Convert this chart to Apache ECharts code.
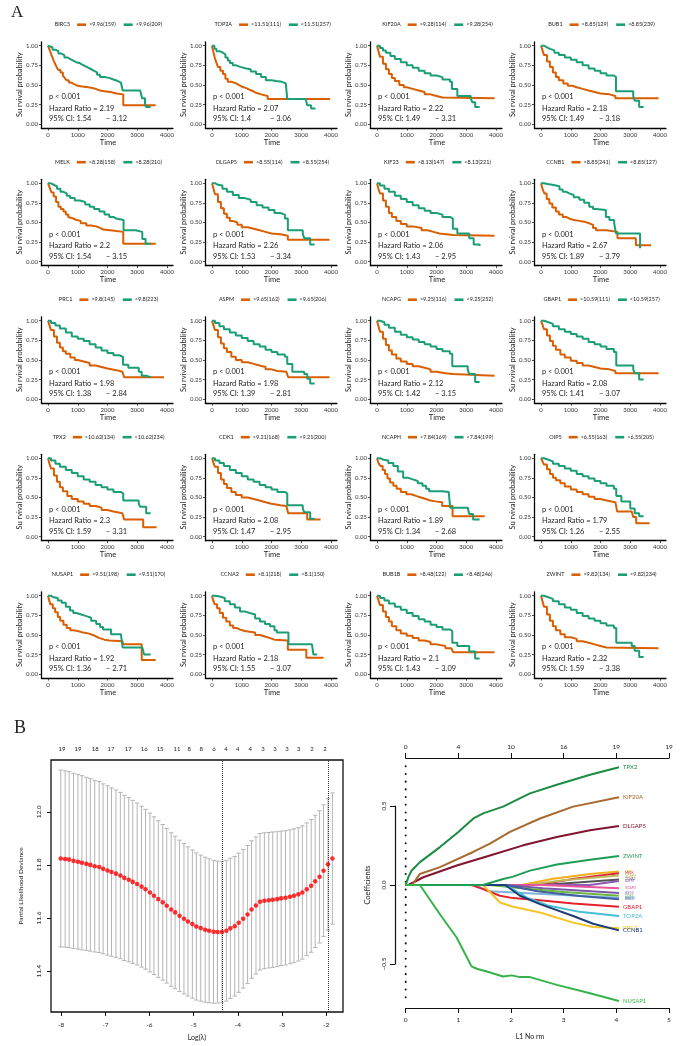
<!DOCTYPE html>
<html><head><meta charset="utf-8">
<script src="https://cdn.jsdelivr.net/npm/echarts@6/dist/echarts.min.js"></script>
<style>html,body{margin:0;padding:0;background:#fff}#c{width:685px;height:1046px}</style>
</head><body><div id="c"></div>
<script>
// ---------------- DATA: Panel A (Kaplan-Meier) ----------------
const genes = ['BIRC5','TOP2A','KIF20A','BUB1','MELK','DLGAP5','KIF23','CCNB1','PRC1','ASPM','NCAPG','GBAP1','TPX2','CDK1','NCAPH','OIP5','NUSAP1','CCNA2','BUB1B','ZWINT'];
const cutoffs = ['9.96','11.51','9.28','8.85','8.28','8.55','8.13','8.85','9.8','9.65','9.25','10.59','10.62','9.21','7.84','6.55','9.51','8.1','8.48','9.82'];
const nHigh = [159,111,114,129,158,114,147,241,145,162,116,111,134,168,169,163,198,218,122,134];
const nLow  = [209,257,254,239,210,254,221,127,223,206,252,257,234,200,199,205,170,150,246,234];
const hazardRatio = ['2.19','2.07','2.22','2.18','2.2','2.26','2.06','2.67','1.98','1.98','2.12','2.08','2.3','2.08','1.89','1.79','1.92','2.18','2.1','2.32'];
const ciLower = ['1.54','1.4','1.49','1.49','1.54','1.53','1.43','1.89','1.38','1.39','1.42','1.41','1.59','1.47','1.34','1.26','1.36','1.55','1.43','1.59'];
const ciUpper = ['3.12','3.06','3.31','3.18','3.15','3.34','2.95','3.79','2.84','2.81','3.15','3.07','3.31','2.95','2.68','2.55','2.71','3.07','3.09','3.38'];
const pValueText = 'p < 0.001';
const timeTicks = [0,1000,2000,3000,4000];
const survTicks = [0,0.25,0.5,0.75,1];

// survival curves [time, probability]; high-expression group
const survHigh = [
 [[0,1],[40,0.96],[80,0.92],[120,0.88],[160,0.84],[200,0.80],[250,0.76],[300,0.72],[350,0.69],[420,0.66],[500,0.62],[560,0.59],[620,0.56],[700,0.53],[780,0.51],[880,0.49],[1000,0.48],[1150,0.47],[1350,0.46],[1500,0.45],[1600,0.43],[1750,0.42],[1900,0.41],[2100,0.39],[2300,0.38],[2530,0.24],[3620,0.24]],
 [[0,1],[40,0.93],[90,0.85],[150,0.78],[200,0.73],[280,0.68],[370,0.64],[450,0.58],[530,0.54],[650,0.52],[810,0.50],[900,0.48],[1000,0.46],[1150,0.44],[1260,0.42],[1380,0.40],[1480,0.38],[1650,0.36],[1870,0.32],[3970,0.32]],
 [[0,1],[50,0.93],[100,0.86],[200,0.77],[300,0.70],[400,0.64],[500,0.59],[600,0.55],[750,0.50],[900,0.47],[1000,0.45],[1200,0.43],[1400,0.41],[1600,0.38],[1800,0.36],[2000,0.34],[2200,0.33],[3950,0.33]],
 [[0,1],[50,0.94],[100,0.88],[200,0.80],[300,0.73],[400,0.66],[500,0.60],[600,0.56],[750,0.52],[900,0.49],[1050,0.47],[1200,0.45],[1400,0.43],[1600,0.41],[1800,0.39],[2000,0.38],[2300,0.36],[2500,0.33],[3950,0.33]],
 [[0,1],[60,0.94],[120,0.88],[190,0.83],[270,0.76],[350,0.70],[430,0.67],[520,0.64],[600,0.60],[680,0.57],[740,0.55],[850,0.53],[960,0.52],[1100,0.49],[1290,0.46],[1450,0.45],[1620,0.43],[1750,0.41],[1850,0.40],[2100,0.39],[2300,0.38],[2530,0.23],[3620,0.23]],
 [[0,1],[50,0.93],[100,0.86],[200,0.76],[300,0.68],[400,0.61],[500,0.56],[600,0.52],[700,0.50],[850,0.47],[1000,0.44],[1200,0.42],[1400,0.40],[1600,0.38],[1800,0.36],[2000,0.35],[2300,0.33],[2550,0.28],[3950,0.28]],
 [[0,1],[50,0.93],[100,0.87],[200,0.78],[300,0.70],[400,0.62],[500,0.57],[650,0.52],[800,0.48],[1000,0.45],[1200,0.43],[1500,0.40],[1700,0.38],[1900,0.36],[2100,0.34],[2550,0.33],[3950,0.33]],
 [[0,1],[50,0.93],[110,0.87],[190,0.80],[280,0.74],[380,0.69],[500,0.64],[600,0.60],[730,0.57],[850,0.55],[950,0.53],[1100,0.52],[1290,0.51],[1450,0.49],[1620,0.47],[1750,0.43],[1850,0.40],[2200,0.38],[2570,0.30],[3190,0.21],[3700,0.21]],
 [[0,1],[50,0.94],[100,0.88],[200,0.80],[300,0.72],[400,0.66],[500,0.61],[600,0.58],[750,0.53],[900,0.50],[1000,0.48],[1200,0.46],[1400,0.43],[1600,0.41],[1800,0.39],[2000,0.37],[2300,0.35],[2500,0.33],[2560,0.28],[3900,0.28]],
 [[0,1],[50,0.94],[100,0.88],[200,0.79],[300,0.71],[400,0.65],[500,0.60],[650,0.54],[800,0.50],[1000,0.47],[1200,0.45],[1400,0.43],[1600,0.41],[1800,0.38],[2000,0.36],[2200,0.35],[2500,0.33],[2560,0.28],[3950,0.28]],
 [[0,1],[50,0.93],[100,0.86],[200,0.77],[300,0.69],[400,0.62],[500,0.57],[650,0.52],[800,0.48],[1000,0.45],[1200,0.42],[1400,0.40],[1600,0.38],[1800,0.35],[2000,0.33],[2300,0.32],[2550,0.30],[3950,0.30]],
 [[0,1],[50,0.95],[100,0.89],[200,0.81],[300,0.74],[400,0.68],[500,0.63],[650,0.57],[800,0.53],[1000,0.49],[1200,0.46],[1400,0.43],[1600,0.41],[1800,0.39],[2000,0.38],[2300,0.36],[2500,0.33],[3950,0.33]],
 [[0,1],[50,0.93],[100,0.87],[200,0.78],[300,0.70],[400,0.63],[500,0.58],[650,0.52],[800,0.48],[1000,0.45],[1200,0.42],[1400,0.39],[1600,0.37],[1800,0.34],[2000,0.32],[2200,0.30],[2500,0.28],[2560,0.22],[3200,0.12],[3650,0.12]],
 [[0,1],[50,0.94],[100,0.89],[200,0.81],[300,0.73],[400,0.67],[500,0.62],[650,0.57],[800,0.53],[1000,0.50],[1200,0.48],[1400,0.46],[1600,0.44],[1800,0.42],[2000,0.40],[2300,0.39],[2500,0.38],[2560,0.30],[3200,0.22],[3650,0.22]],
 [[0,1],[50,0.94],[110,0.90],[190,0.85],[270,0.80],[350,0.74],[440,0.69],[550,0.65],[660,0.61],[800,0.57],[990,0.54],[1150,0.52],[1310,0.50],[1480,0.48],[1640,0.46],[1800,0.45],[1970,0.44],[2190,0.39],[2540,0.26],[3620,0.26]],
 [[0,1],[50,0.96],[100,0.92],[200,0.86],[300,0.80],[400,0.75],[500,0.72],[650,0.68],[800,0.64],[1000,0.60],[1200,0.57],[1400,0.54],[1600,0.51],[1800,0.48],[2000,0.46],[2200,0.44],[2500,0.42],[2560,0.32],[3050,0.30],[3100,0.25],[3200,0.17],[3650,0.17]],
 [[0,1],[40,0.94],[80,0.89],[160,0.84],[240,0.79],[330,0.73],[410,0.68],[520,0.63],[630,0.59],[750,0.56],[850,0.55],[1000,0.53],[1180,0.52],[1350,0.50],[1510,0.48],[1620,0.46],[1730,0.44],[1900,0.43],[2070,0.42],[2510,0.38],[3150,0.18],[3620,0.18]],
 [[0,1],[40,0.94],[90,0.89],[170,0.84],[260,0.78],[370,0.72],[480,0.67],[600,0.62],[710,0.59],[820,0.57],[930,0.55],[1100,0.54],[1270,0.53],[1450,0.50],[1610,0.48],[1780,0.46],[1950,0.44],[2100,0.43],[2550,0.31],[3170,0.21],[3750,0.21]],
 [[0,1],[50,0.94],[100,0.88],[200,0.80],[300,0.73],[400,0.67],[500,0.61],[650,0.56],[800,0.52],[1000,0.49],[1200,0.46],[1400,0.43],[1600,0.41],[1800,0.38],[2000,0.36],[2300,0.33],[2500,0.32],[2560,0.28],[3950,0.28]],
 [[0,1],[50,0.93],[100,0.86],[200,0.76],[300,0.68],[400,0.61],[500,0.56],[650,0.51],[800,0.47],[1000,0.45],[1200,0.42],[1400,0.40],[1600,0.38],[1800,0.36],[2000,0.34],[2200,0.33],[3950,0.33]]
];
// low-expression group
const survLow = [
 [[0,1],[60,0.98],[150,0.95],[250,0.93],[350,0.90],[450,0.88],[550,0.85],[650,0.83],[750,0.81],[850,0.79],[950,0.78],[1050,0.76],[1150,0.74],[1250,0.72],[1350,0.70],[1450,0.68],[1550,0.66],[1650,0.63],[1750,0.60],[1900,0.59],[2050,0.57],[2200,0.55],[2350,0.53],[2450,0.51],[2510,0.43],[3100,0.41],[3160,0.33],[3260,0.26],[3300,0.22],[3450,0.22]],
 [[0,1],[80,0.96],[150,0.93],[250,0.91],[370,0.89],[450,0.85],[530,0.81],[600,0.78],[700,0.75],[810,0.73],[950,0.71],[1150,0.70],[1300,0.67],[1480,0.64],[1650,0.60],[1810,0.56],[2000,0.55],[2150,0.54],[2350,0.52],[2480,0.51],[2530,0.32],[3150,0.32],[3200,0.24],[3330,0.20],[3480,0.20]],
 [[0,1],[100,0.97],[200,0.94],[300,0.91],[450,0.87],[600,0.83],[800,0.79],[1000,0.75],[1200,0.72],[1400,0.68],[1600,0.65],[1800,0.62],[2000,0.60],[2200,0.57],[2450,0.54],[2520,0.45],[2700,0.36],[3150,0.33],[3200,0.28],[3300,0.22],[3450,0.22]],
 [[0,1],[100,0.98],[200,0.96],[300,0.94],[450,0.91],[600,0.88],[800,0.85],[1000,0.82],[1200,0.79],[1400,0.75],[1600,0.71],[1800,0.68],[2000,0.65],[2200,0.62],[2450,0.60],[2520,0.42],[3100,0.36],[3150,0.30],[3300,0.22],[3450,0.22]],
 [[0,1],[80,0.98],[190,0.96],[300,0.93],[420,0.89],[520,0.87],[630,0.84],[740,0.81],[900,0.78],[1070,0.76],[1250,0.73],[1400,0.70],[1550,0.67],[1730,0.64],[1900,0.60],[2060,0.57],[2200,0.55],[2290,0.53],[2540,0.40],[2950,0.38],[3170,0.29],[3280,0.23],[3450,0.23]],
 [[0,1],[100,0.98],[200,0.97],[350,0.93],[500,0.89],[700,0.85],[900,0.81],[1100,0.79],[1300,0.76],[1500,0.72],[1700,0.69],[1900,0.66],[2100,0.62],[2300,0.60],[2450,0.55],[2550,0.40],[3050,0.36],[3100,0.30],[3300,0.22],[3450,0.22]],
 [[0,1],[100,0.97],[250,0.93],[400,0.89],[600,0.84],[800,0.80],[1000,0.76],[1200,0.72],[1400,0.68],[1600,0.65],[1800,0.62],[2000,0.60],[2200,0.57],[2450,0.55],[2550,0.42],[2700,0.36],[3100,0.30],[3250,0.22],[3450,0.20]],
 [[0,1],[100,0.99],[220,0.98],[380,0.97],[500,0.96],[620,0.92],[730,0.89],[850,0.87],[950,0.85],[1100,0.82],[1290,0.79],[1450,0.75],[1620,0.70],[1750,0.67],[1850,0.66],[2180,0.57],[2300,0.53],[2460,0.49],[2520,0.36],[3330,0.17]],
 [[0,1],[100,0.97],[250,0.94],[400,0.90],[600,0.85],[800,0.80],[1000,0.77],[1200,0.74],[1400,0.70],[1600,0.66],[1800,0.62],[2000,0.59],[2200,0.56],[2400,0.54],[2520,0.44],[2700,0.40],[3050,0.35],[3150,0.30],[3300,0.28],[3450,0.28]],
 [[0,1],[100,0.97],[250,0.93],[400,0.89],[600,0.85],[800,0.81],[1000,0.78],[1200,0.74],[1400,0.70],[1600,0.67],[1800,0.63],[2000,0.60],[2200,0.57],[2450,0.54],[2530,0.45],[2700,0.35],[3100,0.32],[3200,0.26],[3300,0.20],[3450,0.20]],
 [[0,1],[100,0.98],[250,0.95],[400,0.91],[600,0.86],[800,0.82],[1000,0.79],[1200,0.76],[1400,0.73],[1600,0.70],[1800,0.67],[2000,0.64],[2200,0.61],[2450,0.58],[2530,0.42],[3050,0.38],[3100,0.32],[3300,0.22],[3450,0.22]],
 [[0,1],[100,0.98],[250,0.96],[400,0.93],[600,0.89],[800,0.86],[1000,0.83],[1200,0.80],[1400,0.77],[1600,0.73],[1800,0.70],[2000,0.67],[2200,0.64],[2450,0.60],[2530,0.43],[3100,0.38],[3150,0.33],[3300,0.25],[3450,0.25]],
 [[0,1],[100,0.97],[250,0.93],[400,0.89],[600,0.85],[800,0.81],[1000,0.77],[1200,0.73],[1400,0.70],[1600,0.66],[1800,0.63],[2000,0.60],[2200,0.57],[2450,0.55],[2530,0.46],[3050,0.42],[3100,0.38],[3300,0.30],[3450,0.30]],
 [[0,1],[100,0.97],[250,0.94],[400,0.90],[600,0.85],[800,0.81],[1000,0.77],[1200,0.73],[1400,0.70],[1600,0.66],[1800,0.63],[2000,0.60],[2200,0.57],[2450,0.55],[2530,0.40],[3050,0.36],[3100,0.31],[3300,0.23],[3450,0.23]],
 [[0,1],[100,0.98],[220,0.97],[380,0.94],[550,0.90],[700,0.83],[880,0.75],[1050,0.73],[1200,0.71],[1370,0.68],[1530,0.65],[1650,0.61],[1750,0.58],[2200,0.57],[2410,0.56],[2460,0.37],[3050,0.37],[3100,0.29],[3230,0.22],[3450,0.22]],
 [[0,1],[100,0.98],[250,0.96],[400,0.93],[600,0.90],[800,0.87],[1000,0.84],[1200,0.80],[1400,0.77],[1600,0.74],[1800,0.71],[2000,0.68],[2200,0.65],[2450,0.61],[2530,0.52],[2700,0.45],[3000,0.36],[3150,0.30],[3300,0.26],[3450,0.26]],
 [[0,1],[100,0.98],[190,0.97],[330,0.94],[460,0.91],[600,0.86],[740,0.81],[850,0.78],[960,0.76],[1120,0.74],[1290,0.72],[1450,0.68],[1620,0.64],[1750,0.60],[1850,0.57],[2120,0.51],[2450,0.49],[2510,0.34],[3170,0.34],[3230,0.25],[3450,0.25]],
 [[0,1],[100,0.99],[260,0.97],[430,0.93],[600,0.89],[770,0.85],[940,0.80],[1100,0.78],[1270,0.76],[1450,0.71],[1610,0.67],[1780,0.64],[1950,0.61],[2100,0.56],[2180,0.53],[2570,0.38],[3360,0.36],[3410,0.25],[3530,0.25]],
 [[0,1],[100,0.97],[250,0.94],[400,0.90],[600,0.86],[800,0.82],[1000,0.78],[1200,0.74],[1400,0.70],[1600,0.67],[1800,0.63],[2000,0.60],[2200,0.57],[2450,0.55],[2530,0.40],[2700,0.36],[3100,0.29],[3300,0.20],[3450,0.20]],
 [[0,1],[100,0.98],[250,0.96],[400,0.93],[600,0.89],[800,0.85],[1000,0.82],[1200,0.78],[1400,0.74],[1600,0.71],[1800,0.68],[2000,0.65],[2200,0.62],[2450,0.59],[2530,0.40],[3050,0.36],[3150,0.30],[3300,0.22],[3450,0.22]]
];

// ---------------- DATA: Panel B left (cross-validation) ----------------
const logLambda = [-8.01,-7.91,-7.82,-7.72,-7.62,-7.53,-7.43,-7.34,-7.24,-7.14,-7.05,-6.95,-6.86,-6.76,-6.66,-6.57,-6.47,-6.38,-6.28,-6.18,-6.09,-5.99,-5.90,-5.80,-5.70,-5.61,-5.51,-5.42,-5.32,-5.22,-5.13,-5.03,-4.94,-4.84,-4.74,-4.65,-4.55,-4.46,-4.36,-4.26,-4.17,-4.07,-3.98,-3.88,-3.78,-3.69,-3.59,-3.50,-3.40,-3.30,-3.21,-3.11,-3.02,-2.92,-2.82,-2.73,-2.63,-2.54,-2.44,-2.34,-2.25,-2.15,-2.06,-1.96,-1.86];
const cvMean = [11.824,11.822,11.820,11.815,11.812,11.808,11.804,11.800,11.795,11.792,11.785,11.779,11.773,11.767,11.760,11.751,11.744,11.736,11.728,11.718,11.708,11.696,11.684,11.671,11.659,11.646,11.632,11.621,11.608,11.597,11.587,11.577,11.568,11.562,11.556,11.552,11.548,11.547,11.547,11.552,11.561,11.569,11.582,11.597,11.613,11.632,11.647,11.661,11.665,11.667,11.669,11.671,11.674,11.676,11.680,11.684,11.689,11.696,11.708,11.721,11.738,11.755,11.778,11.802,11.824];
const cvSE = [0.333,0.332,0.331,0.330,0.329,0.328,0.326,0.325,0.323,0.322,0.320,0.319,0.317,0.315,0.313,0.311,0.309,0.307,0.305,0.303,0.301,0.299,0.297,0.295,0.293,0.291,0.289,0.287,0.285,0.283,0.281,0.279,0.277,0.275,0.273,0.271,0.269,0.267,0.266,0.265,0.264,0.263,0.262,0.261,0.260,0.259,0.258,0.257,0.256,0.255,0.255,0.254,0.253,0.253,0.252,0.252,0.251,0.251,0.250,0.250,0.249,0.249,0.248,0.248,0.247];
const lambdaMin = -4.36, lambda1se = -1.96;
const topLambda = [-7.98,-7.62,-7.23,-6.87,-6.48,-6.12,-5.76,-5.38,-5.10,-4.83,-4.54,-4.27,-4.00,-3.72,-3.43,-3.16,-2.89,-2.62,-2.32,-2.03];
const topCounts = [19,19,18,17,17,16,15,11,8,8,6,4,4,4,3,3,3,3,2,2];
const cvXTicks = [-8,-7,-6,-5,-4,-3,-2];
const cvYTicks = [11.4,11.6,11.8,12.0];

// ---------------- DATA: Panel B right (coefficient paths) ----------------
const pathTPX2   = [[0,0],[0.05,0.05],[0.11,0.09],[0.27,0.145],[0.65,0.24],[1.0,0.336],[1.28,0.42],[1.47,0.453],[1.85,0.496],[2.04,0.528],[2.36,0.58],[2.87,0.634],[3.5,0.698],[4.05,0.745]];
const pathKIF20A = [[0,0],[0.12,0],[0.27,0.07],[0.65,0.113],[1.28,0.209],[1.6,0.262],[1.98,0.336],[2.55,0.421],[3.18,0.496],[4.05,0.555]];
const pathDLGAP5 = [[0,0],[0.05,0],[0.335,0.049],[0.97,0.123],[1.6,0.187],[2.23,0.251],[2.87,0.304],[3.5,0.347],[4.05,0.374]];
const pathZWINT  = [[0,0],[1.47,0],[1.85,0.038],[2.04,0.053],[2.36,0.091],[2.87,0.13],[3.5,0.16],[4.05,0.183]];
const pathOIP5   = [[0,0],[2.2,0],[2.8,0.04],[3.5,0.07],[4.05,0.085]];
const pathMELK   = [[0,0],[2.5,0],[3.2,0.04],[4.05,0.075]];
const pathNCAPH  = [[0,0],[2.3,0],[3.0,0.03],[4.05,0.06]];
const pathCCNA2  = [[0,0],[2.6,0],[4.05,0.035]];
const pathASPM   = [[0,0],[3.5,0],[4.05,0.025]];
const pathNCAPG  = [[0,0],[2.6,0],[4.05,-0.02]];
const pathKIF23  = [[0,0],[1.9,0],[2.6,-0.02],[4.05,-0.05]];
const pathCDK1   = [[0,0],[1.6,0],[2.2,-0.02],[3.0,-0.045],[4.05,-0.068]];
const pathBUB1B  = [[0,0],[1.3,0],[1.6,-0.04],[2.5,-0.055],[4.05,-0.08]];
const pathBIRC5  = [[0,0],[1.9,0],[2.5,-0.04],[3.3,-0.07],[4.05,-0.09]];
const pathGBAP1  = [[0,0],[1.25,0],[1.47,-0.026],[1.79,-0.068],[2.04,-0.083],[2.55,-0.096],[3.18,-0.117],[4.05,-0.138]];
const pathTOP2A  = [[0,0],[1.85,0],[2.0,-0.02],[2.3,-0.08],[2.7,-0.13],[3.3,-0.17],[4.05,-0.196]];
const pathPRC1   = [[0,0],[1.47,0],[1.79,-0.111],[2.04,-0.138],[2.55,-0.174],[3.18,-0.238],[3.56,-0.266],[4.05,-0.274]];
const pathCCNB1  = [[0,0],[1.89,0],[2.17,-0.068],[2.55,-0.121],[3.18,-0.196],[3.56,-0.245],[4.05,-0.287]];
const pathNUSAP1 = [[0,0],[0.27,0],[0.65,-0.185],[0.97,-0.334],[1.25,-0.515],[1.35,-0.53],[1.54,-0.547],[1.85,-0.579],[2.01,-0.572],[2.17,-0.583],[2.36,-0.583],[2.87,-0.632],[3.5,-0.685],[4.05,-0.734]];
const coefNames  = ['OIP5','MELK','NCAPH','CCNA2','ASPM','NCAPG','KIF23','CDK1','BUB1B','BIRC5','GBAP1','TOP2A','PRC1','CCNB1','ZWINT','DLGAP5','KIF20A','TPX2','NUSAP1'];
const coefPaths  = [pathOIP5,pathMELK,pathNCAPH,pathCCNA2,pathASPM,pathNCAPG,pathKIF23,pathCDK1,pathBUB1B,pathBIRC5,pathGBAP1,pathTOP2A,pathPRC1,pathCCNB1,pathZWINT,pathDLGAP5,pathKIF20A,pathTPX2,pathNUSAP1];
const coefColors = ['#f2b01e','#d7263d','#c2b85a','#555555','#8e5ab5','#e7559a','#7a58a8','#6db33f','#7fb2dc','#3f5f9e','#e3222b','#45c0d2','#f6c424','#1f3d78','#1f9d55','#82142f','#a8692e','#1c8c42','#35b34a'];
const coefBig = ['GBAP1','TOP2A','PRC1','CCNB1','ZWINT','DLGAP5','KIF20A','TPX2','NUSAP1'];
const l1Ticks = [0,1,2,3,4,5];
const dfTop = ['0','4','10','16','19','19'];
const coefTicks = [-0.5,0,0.5];
const zeroLineExtent = [0.752,-0.746];

// ---------------- LAYOUT ----------------
const FONT = 'Lato';
const ORANGE = '#D95F02', GREEN = '#1B9E77';
const colX0 = [48, 212, 377, 541];
const rowY1 = [45.7, 183.2, 320.7, 458.2, 595.7];
const XW = 119, YH = 78.5, XMIN = -220, XMAX = 4200, YMIN = -0.05, YMAX = 1.05;

const cv = document.createElement('canvas').getContext('2d');
function tw(t, size){ cv.font = size + 'px ' + FONT; return cv.measureText(t).width; }
function txt(t, x, y, size, opt){
  opt = opt || {};
  return {type:'text', x:x, y:y, rotation: opt.rot || 0, silent:true,
    style:{text:t, fontSize:size, fontFamily: opt.family || FONT, fill: opt.fill || '#222',
      textAlign: opt.align || 'left', textVerticalAlign: opt.va || 'middle', fontWeight: opt.weight || 'normal'}};
}
const plain = v => String(v);

const grids=[], xAxes=[], yAxes=[], series=[], graphics=[];
for (let i=0;i<20;i++){
  const c=i%4, r=Math.floor(i/4), x0=colX0[c], y1=rowY1[r];
  grids.push({left:x0 + XMIN/4000*XW, top:y1-(YMAX-1)*YH, width:(XMAX-XMIN)/4000*XW, height:(YMAX-YMIN)*YH});
  xAxes.push({gridIndex:i, type:'value', min:XMIN, max:XMAX,
    axisLine:{show:true, onZero:false, lineStyle:{color:'#000', width:1.3}},
    axisTick:{show:true, customValues:timeTicks, length:2.5, lineStyle:{color:'#222', width:0.8}},
    axisLabel:{customValues:timeTicks, fontSize:6, color:'#333', margin:3.5, fontFamily:FONT, formatter:plain},
    splitLine:{show:false}});
  yAxes.push({gridIndex:i, type:'value', min:YMIN, max:YMAX,
    axisLine:{show:true, onZero:false, lineStyle:{color:'#000', width:1.3}},
    axisTick:{show:true, customValues:survTicks, length:2.5, lineStyle:{color:'#222', width:0.8}},
    axisLabel:{customValues:survTicks, fontSize:6, color:'#333', margin:3.5, fontFamily:FONT, formatter:v=>v.toFixed(2)},
    splitLine:{show:false}});
  series.push({type:'line', xAxisIndex:i, yAxisIndex:i, data:survHigh[i], step:'end', symbol:'none', silent:true,
    lineStyle:{color:ORANGE, width:2}, itemStyle:{color:ORANGE}});
  series.push({type:'line', xAxisIndex:i, yAxisIndex:i, data:survLow[i], step:'end', symbol:'none', silent:true,
    lineStyle:{color:GREEN, width:2}, itemStyle:{color:GREEN}});
  // texts
  graphics.push(txt('Su rvival probability', x0-28, y1+39, 7.5, {rot:Math.PI/2, align:'center'}));
  graphics.push(txt('Time', x0+60, y1+96.5, 7.5, {align:'center'}));
  graphics.push(txt(pValueText, x0+1, y1+51, 7.5));
  graphics.push(txt('Hazard Ratio = ' + hazardRatio[i], x0+1, y1+62.5, 7.5));
  graphics.push(txt('95% CI: ' + ciLower[i], x0+1, y1+73, 7.5));
  graphics.push(txt('\u2212 ' + ciUpper[i], x0+58, y1+73, 7.5));
  // legend
  const LF = 5.5, lab1='>'+cutoffs[i]+'('+nHigh[i]+')', lab2='<'+cutoffs[i]+'('+nLow[i]+')';
  const w0=tw(genes[i],LF), w1=tw(lab1,LF), w2=tw(lab2,LF);
  const total = w0+7+9+3+w1+8+9+3+w2;
  let lx = x0+60.5-total/2; const ly = y1-21;
  graphics.push(txt(genes[i], lx, ly, LF)); lx += w0+7;
  graphics.push({type:'rect', silent:true, shape:{x:lx, y:ly-1.3, width:9, height:2.6}, style:{fill:ORANGE}}); lx += 12;
  graphics.push(txt(lab1, lx, ly, LF)); lx += w1+8;
  graphics.push({type:'rect', silent:true, shape:{x:lx, y:ly-1.3, width:9, height:2.6}, style:{fill:GREEN}}); lx += 12;
  graphics.push(txt(lab2, lx, ly, LF));
}
graphics.push(txt('A', 11, 13, 17, {family:'Liberation Serif'}));
graphics.push(txt('B', 14, 728, 18, {family:'Liberation Serif'}));

// ----- Panel B left: CV plot -----
const gCV = 20;
grids.push({left:51, top:760, width:292, height:252, show:true, borderColor:'#111', borderWidth:1.3, backgroundColor:'transparent'});
const cvXMin = -8.23, cvXMax = -1.62, cvYMin = 11.246, cvYMax = 12.195;
xAxes.push({gridIndex:gCV, type:'value', min:cvXMin, max:cvXMax, axisLine:{show:false, onZero:false},
  axisTick:{show:true, customValues:cvXTicks, length:4, lineStyle:{color:'#111'}},
  axisLabel:{customValues:cvXTicks, fontSize:6.5, color:'#222', margin:9, fontFamily:FONT, formatter:plain}, splitLine:{show:false}});
xAxes.push({gridIndex:gCV, type:'value', position:'top', min:cvXMin, max:cvXMax, axisLine:{show:false, onZero:false},
  axisTick:{show:false},
  axisLabel:{customValues:topLambda, fontSize:6, color:'#222', margin:8, fontFamily:FONT,
    formatter:v=>{let b=0;for(let k=0;k<topLambda.length;k++){if(Math.abs(topLambda[k]-v)<Math.abs(topLambda[b]-v))b=k;}return String(topCounts[b]);}},
  splitLine:{show:false}});
yAxes.push({gridIndex:gCV, type:'value', min:cvYMin, max:cvYMax, axisLine:{show:false, onZero:false},
  axisTick:{show:true, customValues:cvYTicks, length:4, lineStyle:{color:'#111'}},
  axisLabel:{customValues:cvYTicks, fontSize:6.5, color:'#222', margin:9, rotate:90, fontFamily:FONT, formatter:v=>v.toFixed(1)},
  splitLine:{show:false}});
const cvXIdx = 20, cvYIdx = 20;
series.push({type:'custom', xAxisIndex:cvXIdx, yAxisIndex:cvYIdx, silent:true,
  data: logLambda.map((x,k)=>[x, cvMean[k]-cvSE[k], cvMean[k]+cvSE[k]]),
  encode:{x:0, y:[1,2]},
  renderItem:function(params, api){
    const x=api.value(0), p1=api.coord([x, api.value(2)]), p2=api.coord([x, api.value(1)]), w=2.2;
    const st={stroke:'#b5b5b5', lineWidth:1};
    return {type:'group', children:[
      {type:'line', shape:{x1:p1[0],y1:p1[1],x2:p2[0],y2:p2[1]}, style:st},
      {type:'line', shape:{x1:p1[0]-w,y1:p1[1],x2:p1[0]+w,y2:p1[1]}, style:st},
      {type:'line', shape:{x1:p2[0]-w,y1:p2[1],x2:p2[0]+w,y2:p2[1]}, style:st}]};
  }});
series.push({type:'scatter', xAxisIndex:cvXIdx, yAxisIndex:cvYIdx, silent:true, symbolSize:4.6,
  itemStyle:{color:'#ff0000'}, data: logLambda.map((x,k)=>[x, cvMean[k]]),
  markLine:{silent:true, symbol:['none','none'], label:{show:false},
    lineStyle:{type:'dotted', color:'#333', width:1}, data:[{xAxis:lambdaMin},{xAxis:lambda1se}]}});
graphics.push(txt('Partial Likelihood Deviance', 21, 886, 6.5, {rot:Math.PI/2, align:'center'}));
graphics.push(txt('Log(\u03bb)', 197, 1038, 7, {align:'center'}));

// ----- Panel B right: coefficient paths -----
const gCF = 21;
grids.push({left:405.7, top:806, width:263.3, height:158});
xAxes.push({gridIndex:gCF, type:'value', min:0, max:5, interval:1, offset:44,
  axisLine:{show:true, onZero:false, lineStyle:{color:'#111', width:1.2}},
  axisTick:{show:true, length:5, lineStyle:{color:'#111'}},
  axisLabel:{fontSize:6.5, color:'#222', margin:8, fontFamily:FONT, formatter:plain}, splitLine:{show:false}});
xAxes.push({gridIndex:gCF, type:'value', position:'top', min:0, max:5, interval:1, offset:48,
  axisLine:{show:true, onZero:false, lineStyle:{color:'#111', width:1.2}},
  axisTick:{show:true, length:5, lineStyle:{color:'#111'}},
  axisLabel:{fontSize:6.5, color:'#222', margin:8, fontFamily:FONT, formatter:v=>dfTop[l1Ticks.indexOf(Math.round(v))]},
  splitLine:{show:false}});
yAxes.push({gridIndex:gCF, type:'value', min:-0.5, max:0.5, interval:0.5, offset:10.7,
  axisLine:{show:true, onZero:false, lineStyle:{color:'#111', width:1.2}},
  axisTick:{show:true, length:5, lineStyle:{color:'#111'}},
  axisLabel:{fontSize:6.5, color:'#222', margin:8, rotate:90, fontFamily:FONT, formatter:v=>(v<0?'\u2212':'')+Math.abs(v).toFixed(1)},
  splitLine:{show:false}});
const cfX = 22, cfY = 21;
series.push({type:'line', xAxisIndex:cfX, yAxisIndex:cfY, clip:false, silent:true, symbol:'none',
  data:[[0,zeroLineExtent[0]],[0,zeroLineExtent[1]]],
  lineStyle:{color:'#111', width:2, type:[0.1,7.6], cap:'round'}});
coefNames.forEach((nm,k)=>{
  const big = coefBig.indexOf(nm)>=0;
  series.push({type:'line', name:nm, xAxisIndex:cfX, yAxisIndex:cfY, clip:false, silent:true, symbol:'none',
    data:coefPaths[k], lineStyle:{color:coefColors[k], width:2}, itemStyle:{color:coefColors[k]},
    endLabel:{show:true, formatter:nm, color:coefColors[k], fontSize: big?6:3.2, distance: big?4:6, fontFamily:FONT}});
});
graphics.push(txt('Coefficients', 368, 885, 7.5, {rot:Math.PI/2, align:'center'}));
graphics.push(txt('L1 No rm', 530, 1037, 7, {align:'center'}));

const chart = echarts.init(document.getElementById('c'), null, {renderer:'canvas', width:685, height:1046});
chart.setOption({animation:false, backgroundColor:'#fff', textStyle:{fontFamily:FONT},
  grid:grids, xAxis:xAxes, yAxis:yAxes, series:series, graphic:{elements:graphics}});
</script></body></html>
